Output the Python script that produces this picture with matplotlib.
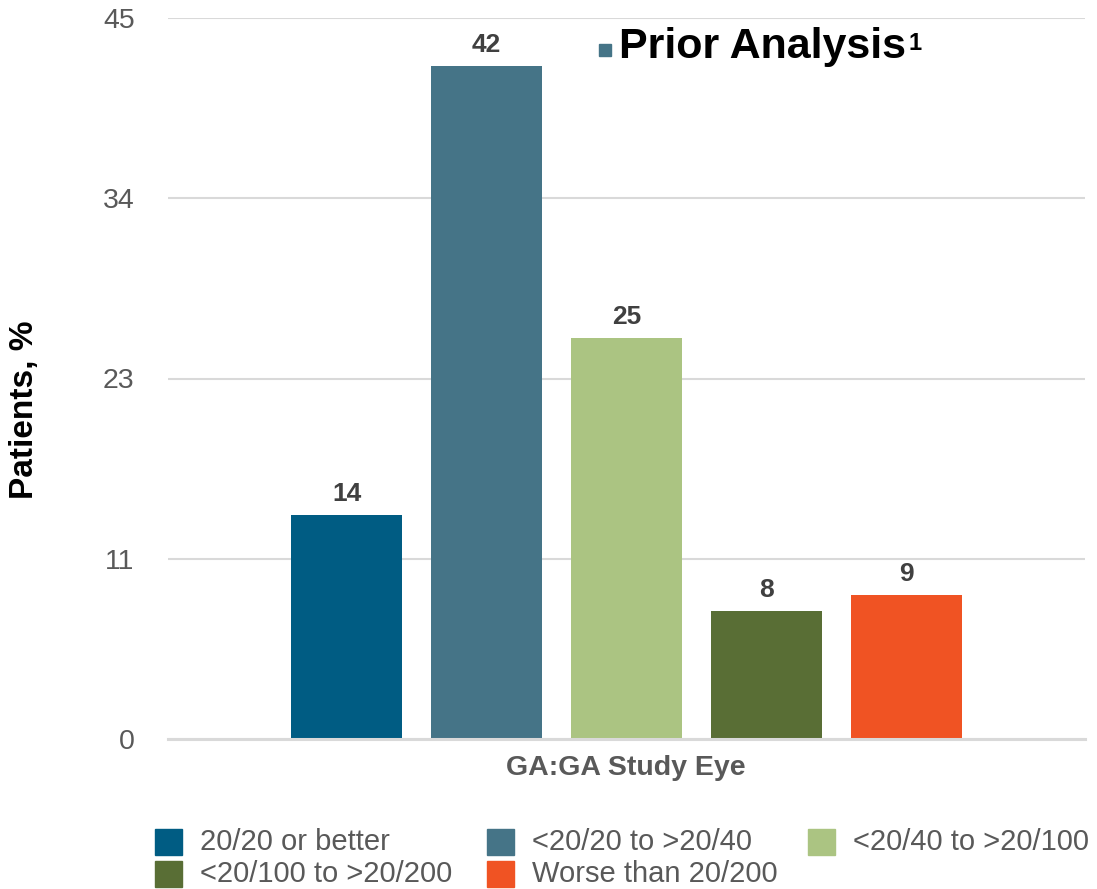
import matplotlib
matplotlib.use("Agg")
import matplotlib.pyplot as plt
from matplotlib.patches import Rectangle

plt.rcParams['font.family'] = ['Liberation Sans', 'DejaVu Sans']

# Visual acuity categories and share of patients (%)
categories = ["20/20 or better", "<20/20 to >20/40", "<20/40 to >20/100",
              "<20/100 to >20/200", "Worse than 20/200"]
values = [14, 42, 25, 8, 9]
colors = ["#005C83", "#457487", "#ABC482", "#596E35", "#F05323"]
y_ticks = [0, 11.25, 22.5, 33.75, 45]
y_tick_labels = ["0", "11", "23", "34", "45"]
group_label = "GA:GA Study Eye"
y_label = "Patients, %"
title = "Prior Analysis"
title_note = "1"

W, H = 1097, 889
fig = plt.figure(figsize=(W / 100, H / 100), dpi=100)
ax = fig.add_axes([168 / W, 1 - 739 / H, (1085 - 168) / W, (739 - 18) / H])

x = list(range(len(values)))
bars = ax.bar(x, values, width=0.79, color=colors, zorder=3)

ax.set_xlim(-1.275, 5.275)
ax.set_ylim(0, 45)
ax.set_yticks(y_ticks)
ax.set_yticklabels(y_tick_labels)
ax.tick_params(axis='y', length=0, pad=24, labelsize=20.5, labelcolor="#595959")
ax.set_xticks([])

ax.grid(axis='y', color="#D9D9D9", linewidth=1.5, zorder=0)
for side in ("top", "right", "left"):
    ax.spines[side].set_visible(False)
ax.spines["bottom"].set_color("#D9D9D9")
ax.spines["bottom"].set_linewidth(2.2)
ax.spines["bottom"].set_zorder(4)

for rect, v in zip(bars, values):
    ax.annotate(f"{v}", (rect.get_x() + rect.get_width() / 2, v),
                xytext=(0, 6.5), textcoords="offset points",
                ha="center", va="bottom", fontsize=19, fontweight="bold",
                color="#404040")

ax.set_ylabel(y_label, fontsize=24, fontweight="bold", color="black", labelpad=0)
ax.yaxis.set_label_coords(-(168 - 25) / (1085 - 168), (739 - 410) / (739 - 18))
ax.yaxis.label.set_va("center")

fig.text(626 / W, 1 - 768 / H, group_label, ha="center", va="center",
         fontsize=20.5, fontweight="bold", color="#595959")

# Title with a small colored square bullet and superscript note
fig.add_artist(Rectangle((599 / W, 1 - 56 / H), 12 / W, 12 / H,
                         transform=fig.transFigure, color="#457487"))
t = fig.text(619 / W, 1 - 58 / H, title, ha="left", va="baseline",
             fontsize=31, fontweight="bold", color="black")
fig.canvas.draw()
bb = t.get_window_extent()
fig.text(bb.x1 / W + 3 / W, 1 - 50 / H, title_note, ha="left", va="baseline",
         fontsize=17, fontweight="bold", color="black",
         transform=fig.transFigure)

# Legend laid out in three columns under the chart
col_x = [155, 487, 808]
row_y = [842, 874]
for i, (lab, c) in enumerate(zip(categories, colors)):
    cx = col_x[i % 3]
    cy = row_y[i // 3]
    fig.add_artist(Rectangle((cx / W, 1 - (cy + 13) / H), 27 / W, 26 / H,
                             transform=fig.transFigure, color=c))
    fig.text((cx + 45) / W, 1 - cy / H, lab, ha="left", va="center",
             fontsize=21, color="#595959")

fig.savefig("out.png", dpi=100)
